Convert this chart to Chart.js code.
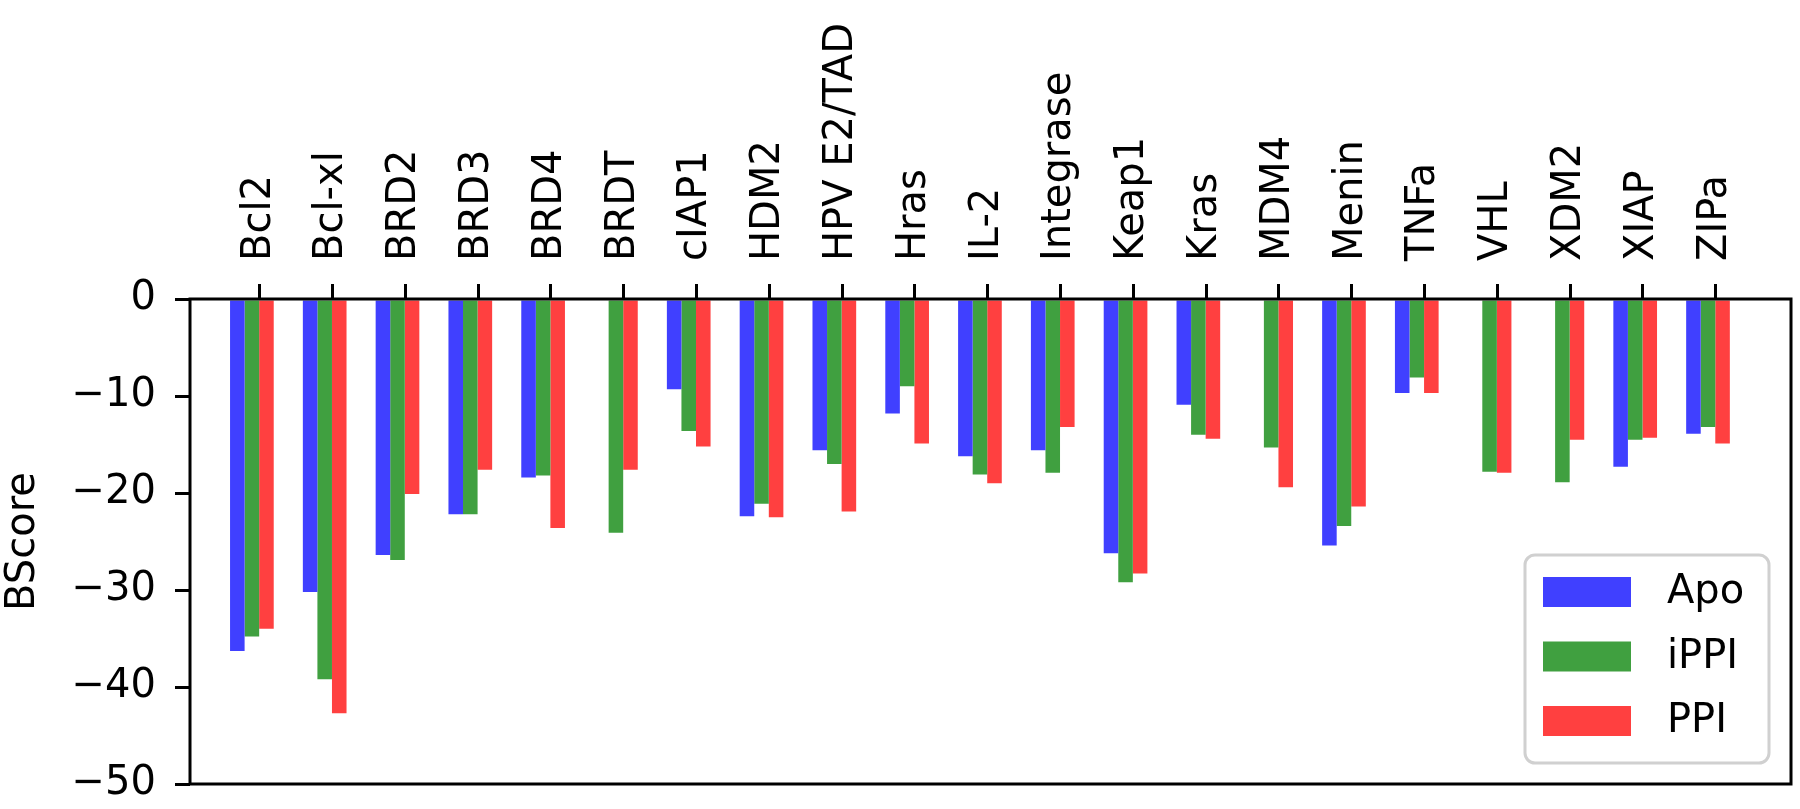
<!DOCTYPE html>
<html>
<head>
<meta charset="utf-8">
<script src="https://cdn.jsdelivr.net/npm/chart.js@4.4.1/dist/chart.umd.min.js"></script>
<style>
  html, body { margin: 0; padding: 0; background: #fff; }
</style>
</head>
<body>
<canvas id="chart" width="1800" height="809"></canvas>
<script>
// targets along the top axis
const targets = ["Bcl2", "Bcl-xl", "BRD2", "BRD3", "BRD4", "BRDT", "cIAP1", "HDM2",
    "HPV E2/TAD", "Hras", "IL-2", "Integrase", "Keap1", "Kras", "MDM4", "Menin",
    "TNFa", "VHL", "XDM2", "XIAP", "ZIPa"];

// BScore per target (null = no bar)
const apo  = [-36.3, -30.2, -26.4, -22.2, -18.4, null, -9.3, -22.4, -15.6, -11.8,
    -16.2, -15.6, -26.2, -10.9, null, -25.4, -9.7, null, null, -17.3, -13.9];
const ippi = [-34.8, -39.2, -26.9, -22.2, -18.2, -24.1, -13.6, -21.1, -17.0, -9.0,
    -18.1, -17.9, -29.2, -14.0, -15.3, -23.4, -8.1, -17.8, -18.9, -14.5, -13.2];
const ppi  = [-34.0, -42.7, -20.1, -17.6, -23.6, -17.6, -15.2, -22.5, -21.9, -14.9,
    -19.0, -13.2, -28.3, -14.4, -19.4, -21.4, -9.7, -17.9, -14.5, -14.3, -14.9];

const seriesNames = ["Apo", "iPPI", "PPI"];
const yTicks = [0, -10, -20, -30, -40, -50];

const colors = ["rgb(64,64,255)", "rgb(64,160,64)", "rgb(255,64,64)"];
const FONT = {family: "DejaVu Sans", size: 40};

// group centre sits a little left of the tick, like matplotlib's offset bars
const toPoints = vals => vals.map((v, i) => ({x: i - 0.1, y: v}));

// frame round the plot, top tick marks, legend box in the lower right
const framePlugin = {
    id: "frame",
    afterDraw(chart) {
        const {ctx, chartArea: a} = chart;
        const xs = chart.scales.x;
        ctx.save();
        ctx.lineWidth = 3;
        ctx.strokeStyle = "#000";
        ctx.strokeRect(a.left, a.top, a.right - a.left, a.bottom - a.top);
        for (let i = 0; i < targets.length; i++) {
            const px = Math.round(xs.getPixelForValue(i)) + 0.5;
            ctx.beginPath();
            ctx.moveTo(px, a.top);
            ctx.lineTo(px, a.top - 15);
            ctx.stroke();
        }

        // legend
        const w = 244, h = 208;
        const x0 = a.right - 22 - w, y0 = a.bottom - 21 - h;
        ctx.beginPath();
        ctx.roundRect(x0, y0, w, h, 10);
        ctx.fillStyle = "rgba(255,255,255,0.8)";
        ctx.fill();
        ctx.lineWidth = 3;
        ctx.strokeStyle = "#d0d0d0";
        ctx.stroke();
        ctx.font = "40px 'DejaVu Sans'";
        ctx.textBaseline = "middle";
        chart.data.datasets.forEach((ds, k) => {
            const cy = y0 + 37 + k * 64.5;
            ctx.fillStyle = ds.backgroundColor;
            ctx.fillRect(x0 + 18, cy - 15, 88, 30);
            ctx.fillStyle = "#000";
            ctx.fillText(ds.label, x0 + 142, cy + 1);
        });
        ctx.restore();
    }
};

new Chart(document.getElementById("chart"), {
    type: "bar",
    data: {
        datasets: [
            {label: seriesNames[0], data: toPoints(apo),  backgroundColor: colors[0]},
            {label: seriesNames[1], data: toPoints(ippi), backgroundColor: colors[1]},
            {label: seriesNames[2], data: toPoints(ppi),  backgroundColor: colors[2]},
        ],
    },
    options: {
        responsive: false,
        animation: false,
        devicePixelRatio: 1,
        categoryPercentage: 0.6,
        barPercentage: 1.0,
        layout: {padding: {left: 0, top: 0, right: 9, bottom: 25}},
        plugins: {legend: {display: false}, tooltip: {enabled: false}},
        scales: {
            x: {
                type: "linear",
                position: "top",
                offset: false,
                min: -0.95,
                max: 21.04,
                afterBuildTicks: axis => { axis.ticks = targets.map((_, i) => ({value: i})); },
                afterFit: axis => {
                    axis.height = 299;
                    axis.paddingLeft = axis.paddingRight = 0;
                },
                ticks: {
                    autoSkip: false,
                    maxRotation: 90,
                    minRotation: 90,
                    padding: 30,
                    labelOffset: 48,
                    color: "#000",
                    font: FONT,
                    callback: v => targets[v],
                },
                grid: {display: false, offset: false},
                border: {display: false},
            },
            y: {
                min: -50,
                max: 0,
                afterBuildTicks: axis => { axis.ticks = yTicks.map(v => ({value: v})); },
                afterFit: axis => {
                    axis.width = 190;
                    axis.paddingTop = axis.paddingBottom = 0;
                },
                ticks: {
                    padding: 19,
                    color: "#000",
                    font: FONT,
                    callback: v => String(v).replace("-", "\u2212"),
                },
                grid: {drawOnChartArea: false, drawTicks: true, tickLength: 15, lineWidth: 3, color: "#000"},
                border: {display: false},
                title: {display: true, text: "BScore", color: "#000", font: FONT, padding: 0},
            },
        },
    },
    plugins: [framePlugin],
});
</script>
</body>
</html>
